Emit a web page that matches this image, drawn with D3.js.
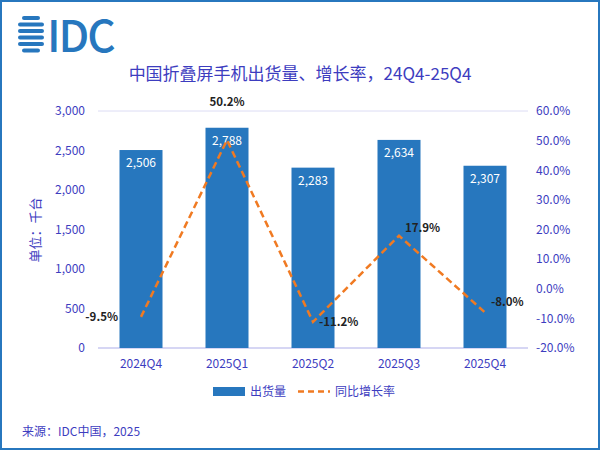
<!DOCTYPE html>
<html><head><meta charset="utf-8">
<script src="https://cdn.jsdelivr.net/npm/d3@7"></script>
<style>body{margin:0;background:#fff}text{font-family:"Noto Sans CJK SC","Noto Sans",sans-serif}</style>
</head><body><svg id="chart" width="600" height="450"></svg>
<script>
const quarters = ["2024Q4", "2025Q1", "2025Q2", "2025Q3", "2025Q4"];
const shipments = [2506, 2788, 2283, 2634, 2307];
const growth = [-9.5, 50.2, -11.2, 17.9, -8.0];
const leftTicks = [0, 500, 1000, 1500, 2000, 2500, 3000];
const rightTicks = [-20, -10, 0, 10, 20, 30, 40, 50, 60];

const svg = d3.select("#chart");
const axisColor = "#3d3dbf";
const barColor = "#2777be";
const lineColor = "#f07a22";

svg.append("rect").attr("x", 1).attr("y", 1).attr("width", 598).attr("height", 448)
    .attr("fill", "none").attr("stroke", "#2777be").attr("stroke-width", 2);

// logo
const logo = svg.append("g");
[0, 1, 2, 3, 4, 5].forEach(i => {
    const w = (i == 0 || i == 5) ? 18 : 26;
    logo.append("rect").attr("x", 18 + (26 - w) / 2).attr("y", 16 + i * 6.5)
        .attr("width", w).attr("height", 4).attr("rx", 2).attr("fill", barColor);
});
logo.append("text").attr("x", 47).attr("y", 52).attr("font-size", 44).attr("font-weight", 500)
    .attr("fill", barColor).attr("font-family", "Liberation Sans, Arial").attr("letter-spacing", -2).text("IDC");

svg.append("text").attr("x", 300).attr("y", 80).attr("text-anchor", "middle")
    .attr("font-size", 17).attr("fill", axisColor).text("中国折叠屏手机出货量、增长率，24Q4-25Q4");

const x = d3.scaleBand().domain(quarters).range([98, 528]).paddingInner(0.5).paddingOuter(0.25);
const yL = d3.scaleLinear().domain([0, 3000]).range([348, 111]);
const yR = d3.scaleLinear().domain([-20, 60]).range([348, 111]);

// only top and bottom grid lines visible in reference
svg.append("g").selectAll("line").data([0, 3000]).join("line")
    .attr("x1", 98).attr("x2", 528).attr("y1", d => yL(d)).attr("y2", d => yL(d))
    .attr("stroke", d => d == 0 ? "#c9c9f0" : "#dcdcf4").attr("stroke-width", d => d == 0 ? 1.5 : 1);

const gl = svg.append("g").attr("transform", "translate(88,0)")
    .call(d3.axisLeft(yL).tickValues(leftTicks).tickSize(0).tickFormat(d3.format(",")));
const gr = svg.append("g").attr("transform", "translate(533,0)")
    .call(d3.axisRight(yR).tickValues(rightTicks).tickSize(0).tickFormat(d => d.toFixed(1) + "%"));
const gx = svg.append("g").attr("transform", "translate(0,352)")
    .call(d3.axisBottom(x).tickSize(0));
[gl, gr, gx].forEach(g => {
    g.select(".domain").remove();
    g.selectAll("text").attr("fill", axisColor).attr("font-size", 12);
});
gx.selectAll("text").attr("dy", "1.1em");

svg.append("text").attr("transform", "translate(40,230) rotate(-90)").attr("text-anchor", "middle")
    .attr("font-size", 13).attr("fill", axisColor).text("单位：千台");

svg.selectAll(".bar").data(shipments).join("rect").attr("class", "bar")
    .attr("x", (d, i) => x(quarters[i])).attr("width", x.bandwidth())
    .attr("y", d => yL(d)).attr("height", d => yL(0) - yL(d)).attr("fill", barColor);
svg.selectAll(".blabel").data(shipments).join("text").attr("class", "blabel")
    .attr("x", (d, i) => x(quarters[i]) + x.bandwidth() / 2).attr("y", d => yL(d) + 17)
    .attr("text-anchor", "middle").attr("fill", "#fff").attr("font-size", 12).text(d3.format(","));

const cx = i => x(quarters[i]) + x.bandwidth() / 2;
svg.append("path").datum(growth)
    .attr("d", d3.line().x((d, i) => cx(i)).y(d => yR(d)))
    .attr("fill", "none").attr("stroke", lineColor).attr("stroke-width", 2.5).attr("stroke-dasharray", "7,4");

const lblOff = [[-23, 4, "end"], [0, -34, "middle"], [6, 4, "start"], [6, -4, "start"], [6, -6, "start"]];
svg.selectAll(".glabel").data(growth).join("text").attr("class", "glabel")
    .attr("x", (d, i) => cx(i) + lblOff[i][0]).attr("y", (d, i) => yR(d) + lblOff[i][1])
    .attr("text-anchor", (d, i) => lblOff[i][2]).attr("font-size", 11.5).attr("font-weight", "bold")
    .attr("fill", "#222").text(d => d.toFixed(1) + "%");

// legend
svg.append("rect").attr("x", 213).attr("y", 387).attr("width", 32).attr("height", 9).attr("fill", barColor);
svg.append("text").attr("x", 250).attr("y", 396).attr("font-size", 12).attr("fill", axisColor).text("出货量");
svg.append("line").attr("x1", 298).attr("x2", 330).attr("y1", 391.5).attr("y2", 391.5)
    .attr("stroke", lineColor).attr("stroke-width", 2.5).attr("stroke-dasharray", "6,4");
svg.append("text").attr("x", 335).attr("y", 396).attr("font-size", 12).attr("fill", axisColor).text("同比增长率");

svg.append("text").attr("x", 22).attr("y", 436).attr("font-size", 12).attr("fill", axisColor).text("来源：IDC中国，2025");
</script></body></html>
